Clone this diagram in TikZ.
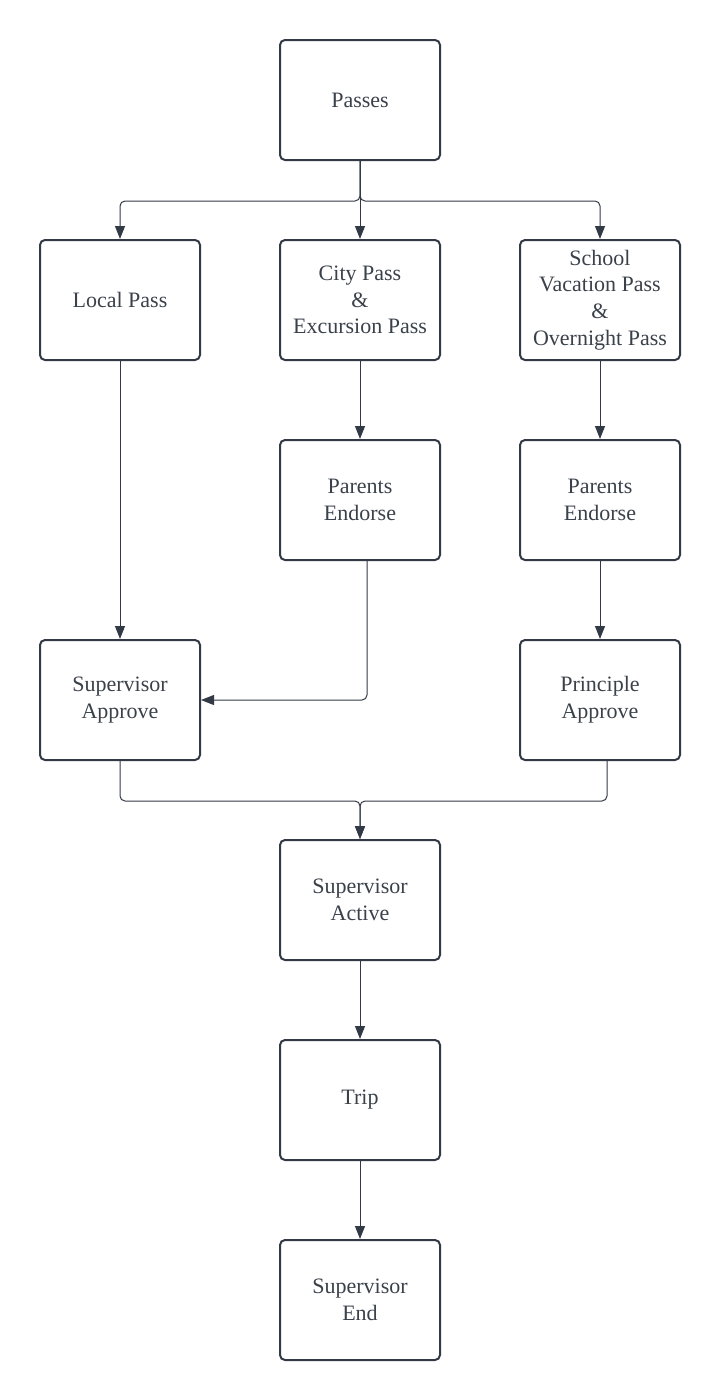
\documentclass[tikz,border=0pt]{standalone}
\usepackage{fontspec}
\setmainfont{Liberation Serif}
\usetikzlibrary{arrows.meta,positioning}

\definecolor{boxline}{HTML}{333A45}
\definecolor{wire}{HTML}{5A6069}
\definecolor{ink}{HTML}{3A414A}

\begin{document}
\begin{tikzpicture}[
    x=1pt, y=-1pt,
    stage/.style={rectangle, draw=boxline, line width=2pt, rounded corners=5pt,
        minimum width=160pt, minimum height=120pt, align=center, text=ink,
        font=\fontsize{22}{26.7}\selectfont},
    arrow/.style={-{Triangle[length=13pt, width=10pt]}, draw=wire, color=boxline, line width=1pt, rounded corners=5pt}
]
\useasboundingbox (0,0) rectangle (720,1400);

% Top level
\node[stage] (passes) at (360,100) {Passes};

% Pass kinds
\node[stage] (local)  at (120,300) {Local Pass};
\node[stage] (city)   at (360,300) {City Pass\\\&\\Excursion Pass};
\node[stage] (school) at (600,300) {School\\Vacation Pass\\\&\\Overnight Pass};

\draw[arrow] (passes.south) -- ++(0,40) -| (local.north);
\draw[arrow] (passes.south) -- (city.north);
\draw[arrow] (passes.south) -- ++(0,40) -| (school.north);

% Endorsement
\node[stage] (endcity)   at (360,500) {Parents\\Endorse};
\node[stage] (endschool) at (600,500) {Parents\\Endorse};

\draw[arrow] (city.south) -- (endcity.north);
\draw[arrow] (school.south) -- (endschool.north);

% Approval
\node[stage] (supappr)  at (120,700) {Supervisor\\Approve};
\node[stage] (prinappr) at (600,700) {Principle\\Approve};

\draw[arrow] (local.south) -- (supappr.north);
\draw[arrow] ([xshift=7pt]endcity.south) |- (supappr.east);
\draw[arrow] (endschool.south) -- (prinappr.north);

% Trip stages
\node[stage] (supact) at (360,900)  {Supervisor\\Active};
\node[stage] (trip)   at (360,1100) {Trip};
\node[stage] (supend) at (360,1300) {Supervisor\\End};

\draw[arrow] (supappr.south) -- ++(0,40) -| (supact.north);
\draw[arrow] ([xshift=7pt]prinappr.south) -- ++(0,40) -| (supact.north);
\draw[arrow] (supact.south) -- (trip.north);
\draw[arrow] (trip.south) -- (supend.north);

\end{tikzpicture}
\end{document}
